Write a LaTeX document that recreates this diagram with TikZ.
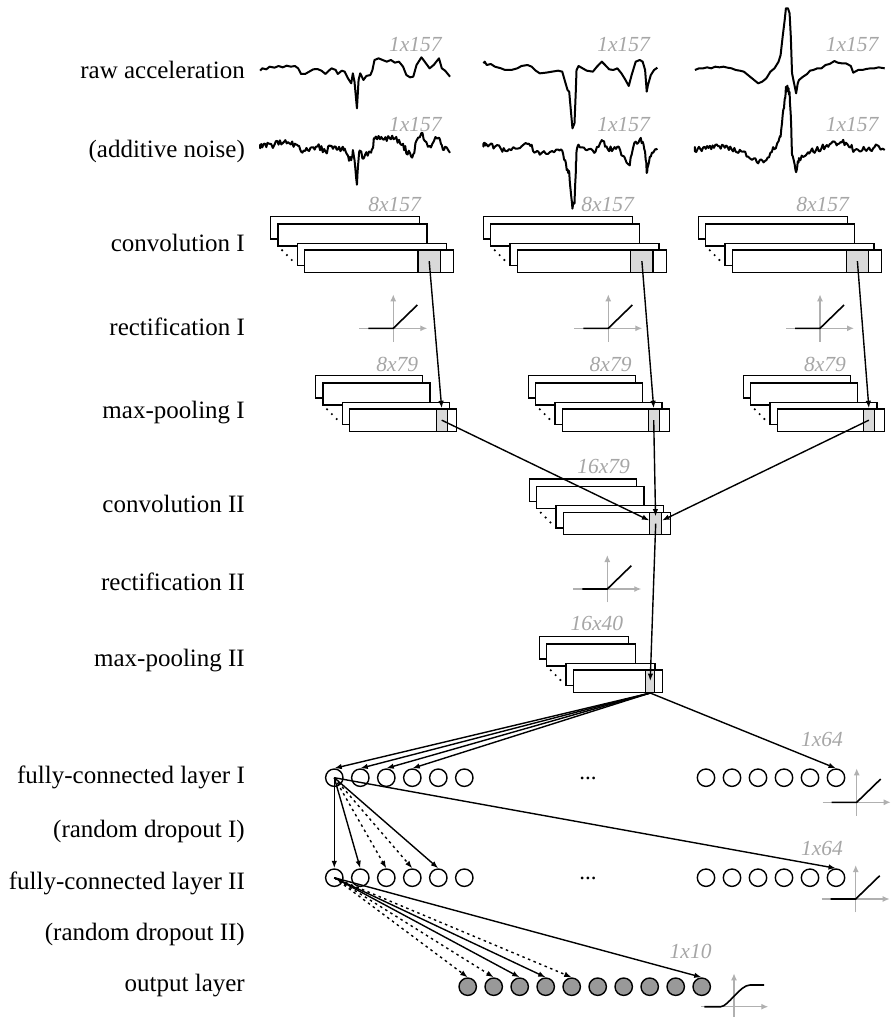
\documentclass[tikz,border=0pt]{standalone}
\usepackage{fontspec}
\setmainfont{Liberation Serif}
\usetikzlibrary{arrows.meta}
\definecolor{lblgray}{HTML}{A6A6A6}
\definecolor{axgray}{HTML}{B0B0B0}
\definecolor{cellgray}{HTML}{D9D9D9}
\definecolor{outgray}{HTML}{999999}

\newcommand{\fmstack}[6]{%
  \node[fmrect, minimum width=#4pt] (#1a) at (#2-34,#3-33.5) {};
  \node[fmrect, minimum width=#4pt] (#1b) at (#2-26.7,#3-26.2) {};
  \node[fmrect, minimum width=#4pt] (#1c) at (#2-7.5,#3-6.8) {};
  \node[fmrect, minimum width=#4pt] (#1d) at (#2,#3) {};
  \node[fmcell, minimum width=#6pt] (#1x) at (#2+#5,#3) {};
  \fill (#2-21.9,#3+1) circle (1.2) (#2-17.1,#3+5.8) circle (1.2) (#2-12.3,#3+10.7) circle (1.2);
}
\newcommand{\reluicon}[2]{%
  \draw[axis] (#1-34,#2) -- (#1+34,#2);
  \draw[axis] (#1,#2+13.4) -- (#1,#2-34);
  \draw[act] (#1-25,#2) -- (#1,#2) -- (#1+24,#2-23.3);
}
% clean signal: list, start x, start y
\newcommand{\cleansig}[3]{%
  \draw[sig] (#2,#3) \foreach \x/\y in #1 { -- (\x,\y) };
}
% noisy signal
\newcommand{\noisysig}[3]{%
  \draw[sig] (#2,#3) \foreach \x/\y [remember=\x as \px (initially #2), remember=\y as \py (initially #3)] in #1
    { -- ({\px+(\x-\px)/3}, {\py+(\y-\py)/3+10.5*rand}) -- ({\px+2*(\x-\px)/3}, {\py+2*(\y-\py)/3+10.5*rand}) -- (\x,{\y+6*rand}) };
}

\def\sigA{25/212, 30/205, 40/208, 48/200, 60/203, 70/198, 80/202, 90/197, 100/200, 110/198, 118/205, 125/222, 135/222, 145/215, 155/208, 165/207, 175/212, 185/222, 195/210, 200/205, 210/210, 215/222, 225/212, 232/215, 240/235, 248/250, 252/220, 256/245, 262/325, 266/240, 270/220, 278/240, 285/228, 295/225, 300/210, 305/180, 315/175, 325/180, 335/185, 345/180, 355/188, 365/185, 375/200, 383/225, 392/232, 400/230, 408/195, 420/172, 428/185, 440/205, 450/195, 463/175, 470/205, 478/212, 490/230}
\def\sigB{572/190, 575/185, 580/195, 590/192, 600/200, 615/205, 625/210, 640/210, 655/205, 665/198, 680/195, 690/200, 700/212, 710/220, 725/218, 740/215, 755/212, 765/215, 772/245, 778/270, 782/275, 786/330, 790/385, 795/370, 798/280, 800/210, 805/198, 815/205, 825/212, 840/215, 850/200, 862/185, 870/195, 880/208, 890/210, 900/205, 910/220, 920/240, 928/258, 935/225, 945/185, 955/180, 962/185, 968/210, 972/275, 975/255, 982/225, 990/210, 998/203}
\def\sigC{1090/210, 1100/205, 1110/205, 1120/202, 1130/205, 1140/200, 1150/202, 1160/200, 1170/203, 1180/205, 1190/210, 1200/212, 1210/215, 1220/225, 1235/240, 1245/250, 1255/245, 1265/235, 1275/215, 1285/205, 1295/185, 1300/165, 1305/110, 1310/60, 1313/25, 1318/25, 1322/40, 1325/110, 1328/220, 1333/250, 1338/280, 1342/250, 1345/240, 1355/230, 1365/222, 1372/212, 1380/210, 1390/205, 1400/205, 1410/195, 1420/192, 1432/183, 1440/188, 1450/190, 1460/190, 1472/198, 1478/218, 1490/210, 1500/210, 1510/207, 1520/205, 1530/205, 1540/202, 1555/205}

\begin{document}
\begin{tikzpicture}[x=1pt,y=-1pt,
  lbl/.style={anchor=base east, inner sep=0, font=\fontsize{25}{30}\selectfont},
  dim/.style={anchor=base east, inner sep=0, text=lblgray, font=\fontsize{21.5}{26}\selectfont\itshape},
  fmrect/.style={draw, fill=white, line width=1.4pt, minimum height=22.3pt, inner sep=0, anchor=north west},
  fmcell/.style={draw, fill=cellgray, line width=1.4pt, minimum height=22.3pt, inner sep=0, anchor=north west},
  neuron/.style={circle, draw, line width=1.4pt, minimum size=17.4pt, inner sep=0},
  outneuron/.style={neuron, fill=outgray},
  conn/.style={line width=1.4pt, -{Latex[length=7.5pt,width=5.5pt]}},
  dconn/.style={conn, dash pattern=on 2.5pt off 3.5pt},
  sig/.style={line width=2pt, line join=round},
  axis/.style={draw=axgray, line width=1.3pt, -{Latex[length=7pt,width=6pt]}},
  act/.style={line width=1.6pt},
]
\useasboundingbox (0,0) rectangle (891,1017);
\pgfmathsetseed{17}

% left labels
\node[lbl] (l1) at (245,78.3) {raw acceleration};
\node[lbl] (l2) at (245,157.5) {(additive noise)};
\node[lbl] (l3) at (245,251.7) {convolution I};
\node[lbl] (l4) at (245,335) {rectification I};
\node[lbl] (l5) at (245,418.3) {max-pooling I};
\node[lbl] (l6) at (245,512.7) {convolution II};
\node[lbl] (l7) at (245,590) {rectification II};
\node[lbl] (l8) at (245,666) {max-pooling II};
\node[lbl] (l9) at (245,783.3) {fully-connected layer I};
\node[lbl] (l10) at (245,837.3) {(random dropout I)};
\node[lbl] (l11) at (245,889.3) {fully-connected layer II};
\node[lbl] (l12) at (245,940.7) {(random dropout II)};
\node[lbl] (l13) at (245,991.7) {output layer};

% signals
\begin{scope}[shift={(250,0)}, x=0.408163pt, y=-0.333333pt]
  \cleansig{\sigA}{25}{212}
  \cleansig{\sigB}{572}{190}
  \cleansig{\sigC}{1090}{210}
  \begin{scope}[shift={(0,232)}]
    \noisysig{\sigA}{25}{212}
  \end{scope}
  \begin{scope}[shift={(0,240)}]
    \noisysig{\sigB}{572}{190}
    \noisysig{\sigC}{1090}{210}
  \end{scope}
\end{scope}

\node[dim] (d1) at (441.8,51.7) {1x157};
\node[dim] (d2) at (650,51.7) {1x157};
\node[dim] (d3) at (878.6,51.7) {1x157};
\node[dim] (d4) at (441.8,131.7) {1x157};
\node[dim] (d5) at (650,131.7) {1x157};
\node[dim] (d6) at (878.6,131.7) {1x157};

% convolution I
\fmstack{ca}{304}{249.3}{149}{113.3}{22.4}
\fmstack{cb}{516.7}{249.3}{149}{113.3}{22.4}
\fmstack{cc}{731.7}{249.3}{149}{113.8}{22.4}
\node[dim] (d7) at (421,211.7) {8x157};
\node[dim] (d8) at (634,211.7) {8x157};
\node[dim] (d9) at (849,211.7) {8x157};

% rectification I
\reluicon{393.3}{328.3}
\reluicon{608.3}{328.3}
\reluicon{820}{328.3}

% max-pooling I
\fmstack{pa}{349}{408.3}{107}{86.5}{11}
\fmstack{pb}{561.7}{408.3}{107}{85.8}{11}
\fmstack{pc}{776.7}{408.3}{107}{86}{11}
\node[dim] (d10) at (418.3,371.7) {8x79};
\node[dim] (d11) at (631.7,371.7) {8x79};
\node[dim] (d12) at (846,371.7) {8x79};

% convolution II
\fmstack{cd}{562.7}{511.7}{107.3}{86.3}{12}
\node[dim] (d13) at (630,473.3) {16x79};

% rectification II
\reluicon{607.3}{589}

% max-pooling II
\fmstack{pd}{572.7}{669.3}{89}{72.3}{9}
\node[dim] (d14) at (623.3,630) {16x40};

% conv I -> pool I
\draw[conn] (cax.center) -- (pax.north);
\draw[conn] (cbx.center) -- (pbx.north);
\draw[conn] (ccx.center) -- (pcx.north);
% pool I -> conv II
\draw[conn, shorten >=7pt] (pax.center) -- (cdx.center);
\draw[conn, shorten >=7pt] (pbx.center) -- (cdx.center);
\draw[conn, shorten >=7pt] (pcx.center) -- (cdx.center);
% conv II -> pool II
\draw[conn] (cdx.center) -- (pdx.center);

% fully connected layers
\foreach \k in {1,...,6} {
  \node[neuron] (f1-\k) at ({334.3+26*(\k-1)},777.7) {};
  \node[neuron] (f2-\k) at ({334.3+26*(\k-1)},877.7) {};
}
\foreach \k in {7,...,12} {
  \node[neuron] (f1-\k) at ({706+26*(\k-7)},777.7) {};
  \node[neuron] (f2-\k) at ({706+26*(\k-7)},877.7) {};
}
\foreach \k in {1,...,10} {
  \node[outneuron] (out-\k) at ({467.7+26*(\k-1)},986.7) {};
}
\node[anchor=base, inner sep=0, font=\fontsize{23}{26}\selectfont] (e1) at (588,779) {...};
\node[anchor=base, inner sep=0, font=\fontsize{23}{26}\selectfont] (e2) at (588,879) {...};
\node[dim] (d15) at (843,746) {1x64};
\node[dim] (d16) at (843,855) {1x64};
\node[dim] (d17) at (711.7,958) {1x10};

% pool II -> FC I
\foreach \k in {1,2,3,4,12} { \draw[conn] (pdx.south) -- (f1-\k.north); }
% FC I -> FC II
\foreach \k in {1,2,5,12} { \draw[conn] (f1-1.center) -- (f2-\k.north); }
\foreach \k in {3,4} { \draw[dconn] (f1-1.center) -- (f2-\k.north); }
% FC II -> output
\foreach \k in {3,4,10} { \draw[conn] (f2-1.center) -- (out-\k.north); }
\foreach \k in {1,2,5} { \draw[dconn] (f2-1.center) -- (out-\k.north); }

% activation icons
\reluicon{856.7}{802.3}
\reluicon{855.7}{899}
\draw[axis] (701,1006.7) -- (768.3,1006.7);
\draw[axis] (734,1020) -- (734,973.3);
\draw[act] (704.3,1006.7) -- (720.7,1006.7) .. controls (728,1006.7) and (740,985) .. (750,985) -- (764,985);
\end{tikzpicture}
\end{document}
